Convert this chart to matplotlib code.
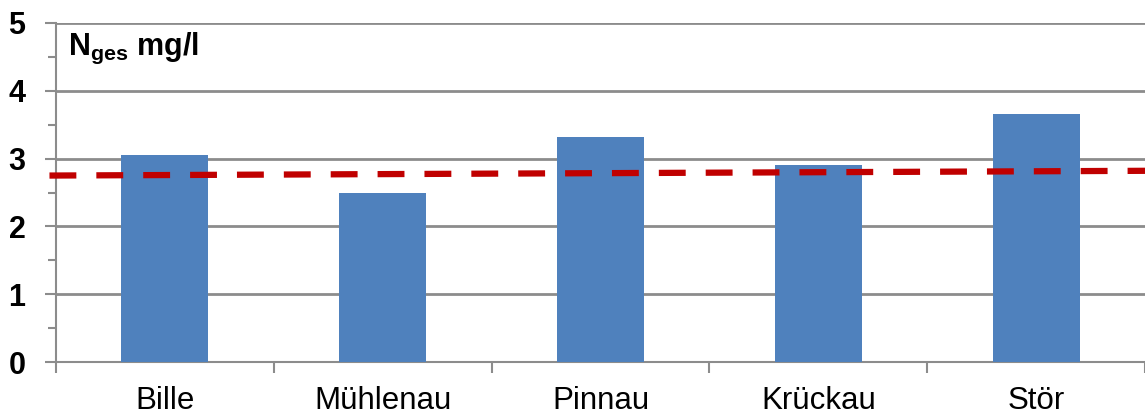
import matplotlib
matplotlib.use("Agg")
import matplotlib.pyplot as plt
import numpy as np

plt.rcParams["font.family"] = ["Liberation Sans", "DejaVu Sans"]
plt.rcParams["mathtext.fontset"] = "custom"
plt.rcParams["mathtext.rm"] = "Liberation Sans"
plt.rcParams["mathtext.bf"] = "Liberation Sans:bold"

# Gesamtstickstoff je Gewässer (mg/l)
fluesse = ["Bille", "Mühlenau", "Pinnau", "Krückau", "Stör"]
n_ges = [3.05, 2.49, 3.32, 2.91, 3.66]

# Trendlinie (Anfangs- und Endwert)
trend_start = 2.75
trend_end = 2.82

grau = "#8C8C8C"

fig = plt.figure(figsize=(11.45, 4.18), dpi=100)
ax = fig.add_axes([56 / 1145, 56 / 418, 1 - 56 / 1145, (362 - 23) / 418])

x = np.arange(len(fluesse))
ax.bar(x, n_ges, width=0.4, color="#4F81BD", zorder=3)

ax.plot([-0.53, len(fluesse) - 0.5], [trend_start, trend_end],
        color="#C00000", lw=4.5, dashes=(4.3, 3.2), zorder=4, clip_on=False)

ax.set_xlim(-0.5, len(fluesse) - 0.5)
ax.set_ylim(0, 5)
ax.set_yticks(range(6))
ax.set_yticks(np.arange(0.5, 5, 1), minor=True)
ax.set_yticklabels([str(i) for i in range(6)], fontsize=22, fontweight="bold")
ax.yaxis.grid(True, color=grau, lw=2, zorder=0)
ax.tick_params(axis="y", which="major", length=8, width=1.5, color=grau, pad=14)
ax.tick_params(axis="y", which="minor", length=6, width=1.5, color=grau)

ax.set_xticks(x)
ax.set_xticklabels(fluesse, fontsize=22.5)
ax.tick_params(axis="x", which="major", length=0, pad=17)
ax.set_xticks(np.arange(-0.5, len(fluesse)), minor=True)
ax.tick_params(axis="x", which="minor", length=8, width=1.5, color=grau)

for side in ["top", "right"]:
    ax.spines[side].set_visible(False)
for side in ["left", "bottom"]:
    ax.spines[side].set_color(grau)
    ax.spines[side].set_linewidth(1.5)

ax.text(0.011, 0.925, r"N$_\mathbf{ges}$ mg/l", transform=ax.transAxes,
        fontsize=22, fontweight="bold", va="center", ha="left")

fig.savefig("out.png", dpi=100)
